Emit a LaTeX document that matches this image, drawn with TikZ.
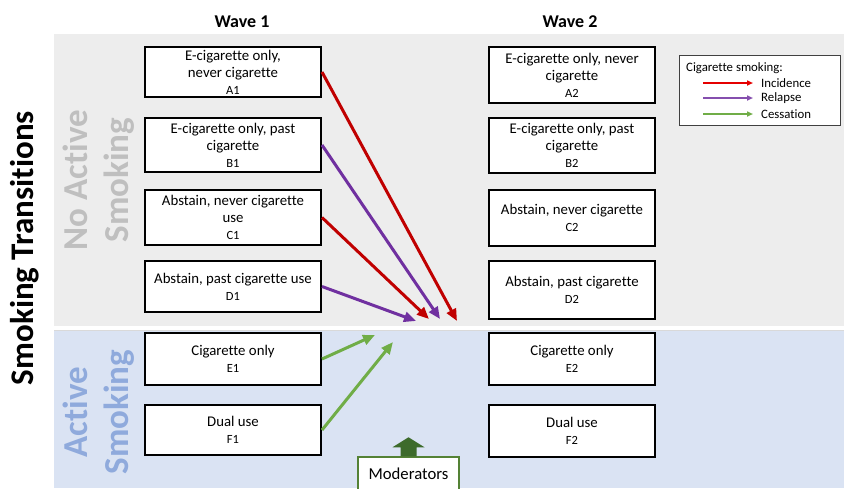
\documentclass[tikz,border=0pt]{standalone}
\usepackage{fontspec}
\setmainfont[Ligatures=NoCommon]{Carlito}
\usetikzlibrary{arrows.meta}
\definecolor{graybg}{HTML}{EDEDED}
\definecolor{bluebg}{HTML}{DAE3F3}
\definecolor{incred}{HTML}{C00000}
\definecolor{relpur}{HTML}{7030A0}
\definecolor{cesgrn}{HTML}{70AD47}
\definecolor{modgreen}{HTML}{548235}
\definecolor{modarrow}{HTML}{3D6B2B}
\definecolor{noact}{HTML}{BFBFBF}
\definecolor{actblue}{HTML}{8FAADC}
\tikzset{
  box/.style={draw=black, line width=2pt, fill=white, align=center, inner sep=1pt,
    font=\fontsize{14.8}{17}\selectfont},
  trans/.style={line width=3pt, -{Triangle[length=12pt,width=10pt]}, shorten >=0pt},
  legarrow/.style={line width=1.5pt, -{Triangle[length=6pt,width=5pt]}},
  sidelabel/.style={rotate=90, align=center, font=\fontsize{35}{41}\selectfont\bfseries},
  legtext/.style={anchor=west, font=\fontsize{12.8}{15}\selectfont, inner sep=0pt},
}
\newcommand{\sublab}[1]{{\fontsize{12.5}{15}\selectfont #1}}
\begin{document}
\begin{tikzpicture}[x=1pt,y=-1pt]
\useasboundingbox (0,0) rectangle (844,488);
\clip (0,0) rectangle (844,488);
% panels
\fill[graybg] (54,34) rectangle (844,326);
\fill[bluebg] (54,330) rectangle (844,488);
\draw[line width=0.6pt, draw=black!15] (54,330) -- (844,330);
% headings
\node[font=\fontsize{18}{21}\selectfont\bfseries] (w1) at (242,22) {Wave 1};
\node[font=\fontsize{18}{21}\selectfont\bfseries] (w2) at (570,22) {Wave 2};
\node[sidelabel, font=\fontsize{33}{38}\selectfont\bfseries] (st) at (25,248) {Smoking Transitions};
\node[sidelabel, text=noact] (na) at (99,180) {No Active\\Smoking};
\node[sidelabel, text=actblue] (ac) at (99,412) {Active\\Smoking};
% wave 1 boxes
\node[box, minimum width=176pt, minimum height=50pt] (A1) at (233,72) {E-cigarette only,\\never cigarette\\\sublab{A1}};
\node[box, minimum width=176pt, minimum height=54pt] (B1) at (233,145) {E-cigarette only, past\\cigarette\\\sublab{B1}};
\node[box, minimum width=176pt, minimum height=55pt] (C1) at (233,217.5) {Abstain, never cigarette\\use\\\sublab{C1}};
\node[box, minimum width=176pt, minimum height=51pt] (D1) at (233,286.5) {Abstain, past cigarette use\\\sublab{D1}};
\node[box, minimum width=176pt, minimum height=52pt] (E1) at (233,359) {Cigarette only\\\sublab{E1}};
\node[box, minimum width=176pt, minimum height=50pt] (F1) at (233,430) {Dual use\\\sublab{F1}};
% wave 2 boxes
\node[box, minimum width=166pt, minimum height=56pt] (A2) at (572,75) {E-cigarette only, never\\cigarette\\\sublab{A2}};
\node[box, minimum width=166pt, minimum height=55pt] (B2) at (572,145.5) {E-cigarette only, past\\cigarette\\\sublab{B2}};
\node[box, minimum width=166pt, minimum height=56pt] (C2) at (572,218) {Abstain, never cigarette\\\sublab{C2}};
\node[box, minimum width=166pt, minimum height=58pt] (D2) at (572,290) {Abstain, past cigarette\\\sublab{D2}};
\node[box, minimum width=166pt, minimum height=52pt] (E2) at (572,359) {Cigarette only\\\sublab{E2}};
\node[box, minimum width=166pt, minimum height=52pt] (F2) at (572,431) {Dual use\\\sublab{F2}};
% transition arrow end points
\coordinate (tA) at (457,321);
\coordinate (tB) at (440,319);
\coordinate (tC) at (429,319);
\coordinate (tD) at (416,321);
\coordinate (tE) at (375,335);
\coordinate (tF) at (393,342);
\draw[trans, draw=incred] (A1.east) -- (tA);
\draw[trans, draw=relpur] (B1.east) -- (tB);
\draw[trans, draw=incred] (C1.east) -- (tC);
\draw[trans, draw=relpur] (D1.east) -- (tD);
\draw[trans, draw=cesgrn] (E1.east) -- (tE);
\draw[trans, draw=cesgrn] (F1.east) -- (tF);
% legend
\node[draw=black!75, line width=0.8pt, fill=white, minimum width=161pt, minimum height=70pt, inner sep=0pt] (leg) at (759.5,90) {};
\node[legtext] (legt) at (686,68) {Cigarette smoking:};
\coordinate (l1a) at (703,83); \coordinate (l1b) at (753,83);
\coordinate (l2a) at (703,98); \coordinate (l2b) at (753,98);
\coordinate (l3a) at (703,114); \coordinate (l3b) at (753,114);
\draw[legarrow, draw=red!90!black] (l1a) -- (l1b);
\draw[legarrow, draw=relpur!85] (l2a) -- (l2b);
\draw[legarrow, draw=cesgrn] (l3a) -- (l3b);
\node[legtext] (li) at (761,83) {Incidence};
\node[legtext] (lr) at (761,98) {Relapse};
\node[legtext] (lc) at (761,114) {Cessation};
% moderators
\node[draw=modgreen, line width=1.5pt, fill=white, minimum width=101pt, minimum height=34pt, inner sep=0pt, font=\fontsize{16.7}{20}\selectfont] (mod) at (408.5,474) {Moderators};
\fill[modarrow] ([xshift=-8pt]mod.north) -- ++(0,-9) -- ++(-8,0) -- ([yshift=19pt]mod.north) -- ([xshift=16pt,yshift=9pt]mod.north) -- ++(-8,0) -- ([xshift=8pt]mod.north) -- cycle;
\end{tikzpicture}
\end{document}
